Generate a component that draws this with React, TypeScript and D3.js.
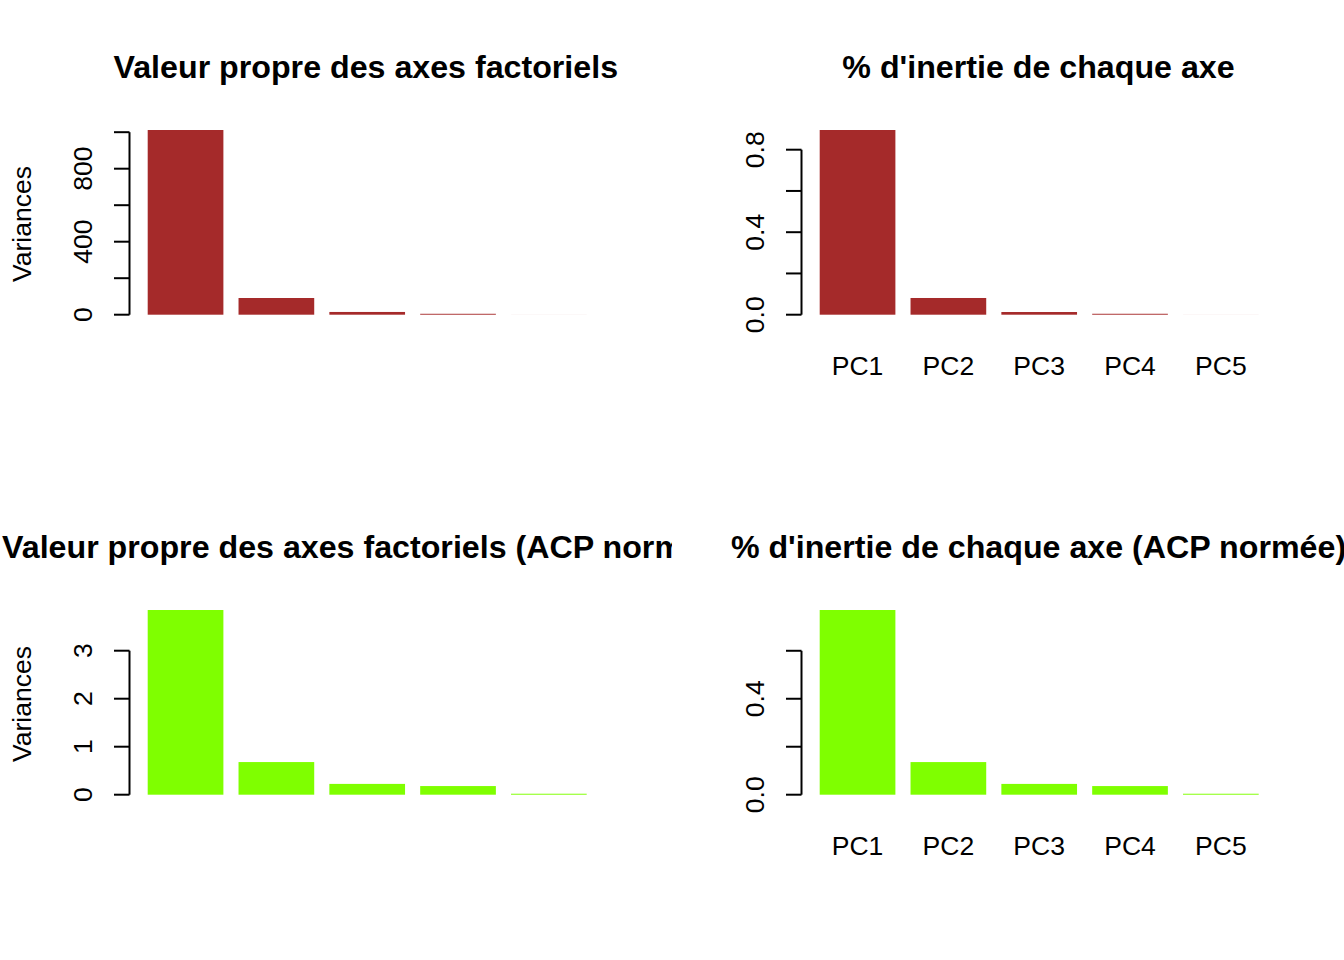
import React from "react";
import * as d3 from "d3";

const categories = ["PC1", "PC2", "PC3", "PC4", "PC5"];

// Raw PCA (top row)
const rawVariances = [1012, 91.5, 15, 5, 0.2];
const rawProportions = [0.8955, 0.081, 0.013, 0.0045, 0.0002];
// Normed PCA (bottom row)
const normVariances = [3.848, 0.68, 0.225, 0.18, 0.02];
const normProportions = [0.77, 0.136, 0.045, 0.036, 0.004];

const titles = [
  "Valeur propre des axes factoriels",
  "% d'inertie de chaque axe",
  "Valeur propre des axes factoriels (ACP normée)",
  "% d'inertie de chaque axe (ACP normée)",
];

const rawVarTicks = [0, 200, 400, 600, 800, 1000];
const rawVarLabels = [0, 400, 800];
const rawPropTicks = [0, 0.2, 0.4, 0.6, 0.8];
const rawPropLabels = [0, 0.4, 0.8];
const normVarTicks = [0, 1, 2, 3];
const normVarLabels = [0, 1, 2, 3];
const normPropTicks = [0, 0.2, 0.4, 0.6];
const normPropLabels = [0, 0.4];

const BROWN = "#A52A2A";
const GREEN = "#7FFF00";

const FONT = "'Liberation Sans', Arial, Helvetica, sans-serif";
const PW = 672;
const PH = 480;

type PanelProps = {
  px: number;
  py: number;
  idx: number;
  title: string;
  values: number[];
  color: string;
  ticks: number[];
  labels: number[];
  fmt: (v: number) => string;
  ylab?: string;
  names: boolean;
  titleDx: number;
};

function Panel({ px, py, idx, title, values, color, ticks, labels, fmt, ylab, names, titleDx }: PanelProps) {
  const x = d3
    .scaleBand<string>()
    .domain(categories)
    .range([px + 147.7, px + 586.7])
    .paddingInner(1 / 6)
    .paddingOuter(0);
  const y = d3
    .scaleLinear()
    .domain([0, d3.max(values) as number])
    .range([py + 314.7, py + 130]);
  const axisX = px + 129.5;
  const titleX = px + titleDx;
  return (
    <g>
      <clipPath id={`clip${idx}`}>
        <rect x={px} y={py} width={PW} height={PH} />
      </clipPath>
      <text
        x={titleX}
        y={py + 78.3}
        textAnchor="middle"
        fontFamily={FONT}
        fontWeight="bold"
        fontSize={32.2}
        clipPath={`url(#clip${idx})`}
      >
        {title}
      </text>
      {values.map((v, i) => (
        <rect
          key={i}
          x={x(categories[i])}
          width={x.bandwidth()}
          y={y(v)}
          height={y(0) - y(v)}
          fill={color}
        />
      ))}
      <line
        x1={axisX}
        x2={axisX}
        y1={y(ticks[0])}
        y2={y(ticks[ticks.length - 1])}
        stroke="#000"
        strokeWidth={2}
      />
      {ticks.map((t, i) => (
        <line key={i} x1={axisX - 15.5} x2={axisX} y1={y(t)} y2={y(t)} stroke="#000" strokeWidth={2} />
      ))}
      {labels.map((t, i) => (
        <text
          key={i}
          x={px + 92}
          y={y(t)}
          transform={`rotate(-90, ${px + 92}, ${y(t)})`}
          textAnchor="middle"
          fontFamily={FONT}
          fontSize={26.56}
        >
          {fmt(t)}
        </text>
      ))}
      {ylab && (
        <text
          x={px + 30.5}
          y={py + 224}
          transform={`rotate(-90, ${px + 30.5}, ${py + 224})`}
          textAnchor="middle"
          fontFamily={FONT}
          fontSize={26.56}
        >
          {ylab}
        </text>
      )}
      {names &&
        categories.map((c) => (
          <text
            key={c}
            x={(x(c) as number) + x.bandwidth() / 2}
            y={py + 375}
            textAnchor="middle"
            fontFamily={FONT}
            fontSize={26.56}
          >
            {c}
          </text>
        ))}
    </g>
  );
}

export default function App() {
  const f0 = (v: number) => d3.format("d")(v);
  const f1 = (v: number) => d3.format(".1f")(v);
  return (
    <svg
      width={1344}
      height={960}
      style={{ position: "absolute", left: 0, top: 0, background: "#fff" }}
    >
      <rect x={0} y={0} width={1344} height={960} fill="#fff" />
      <Panel px={0} py={0} idx={0} title={titles[0]} values={rawVariances} color={BROWN}
        ticks={rawVarTicks} labels={rawVarLabels} fmt={f0} ylab="Variances" names={false} titleDx={365.8} />
      <Panel px={PW} py={0} idx={1} title={titles[1]} values={rawProportions} color={BROWN}
        ticks={rawPropTicks} labels={rawPropLabels} fmt={f1} names={true} titleDx={366.5} />
      <Panel px={0} py={PH} idx={2} title={titles[2]} values={normVariances} color={GREEN}
        ticks={normVarTicks} labels={normVarLabels} fmt={f0} ylab="Variances" names={false} titleDx={365.8} />
      <Panel px={PW} py={PH} idx={3} title={titles[3]} values={normProportions} color={GREEN}
        ticks={normPropTicks} labels={normPropLabels} fmt={f1} names={true} titleDx={366.5} />
    </svg>
  );
}
